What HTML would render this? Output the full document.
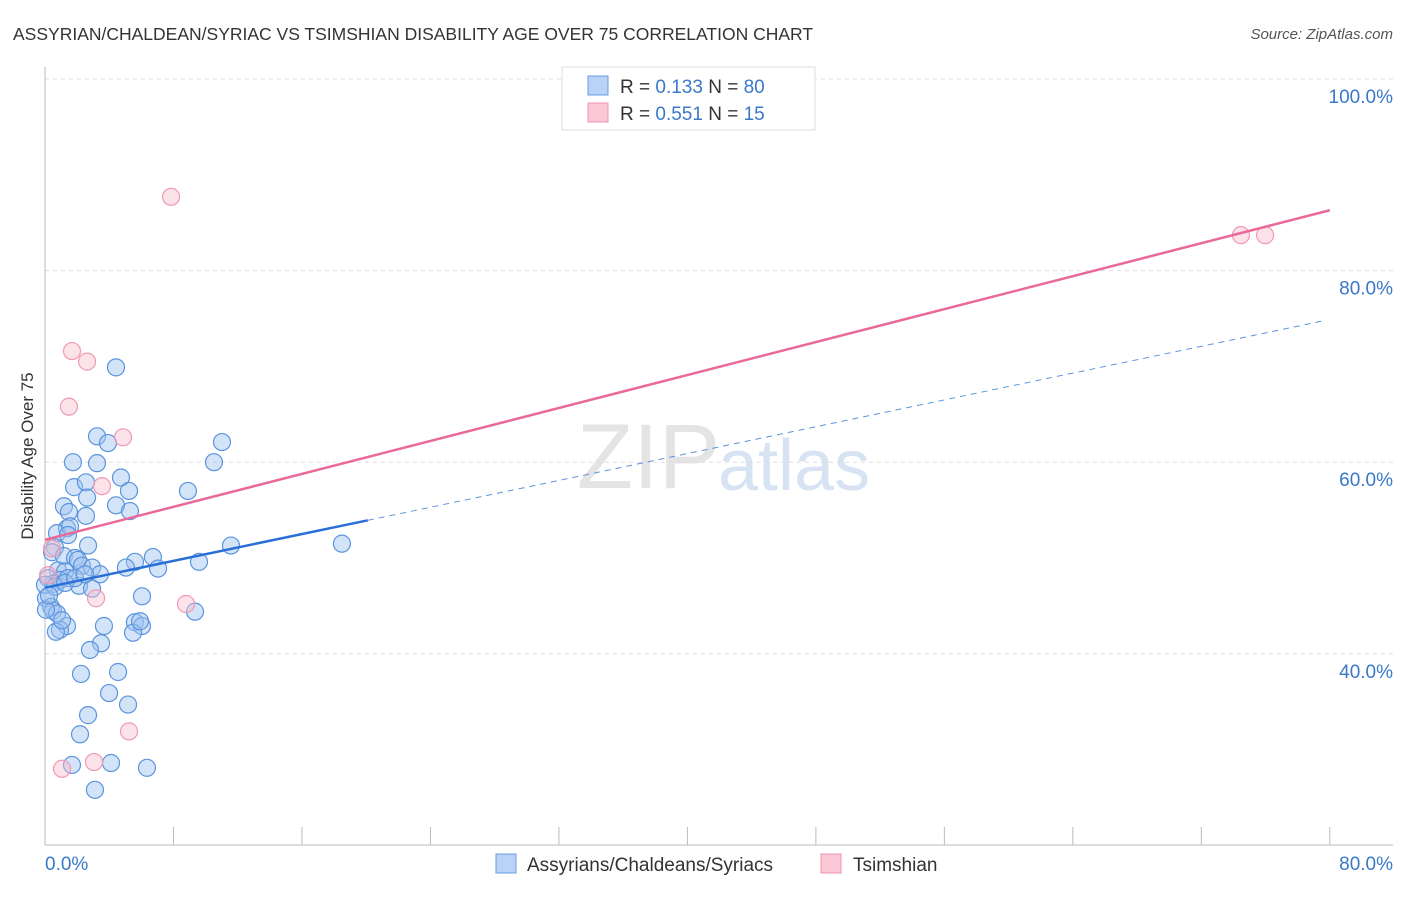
<!DOCTYPE html>
<html><head><meta charset="utf-8"><style>
body{margin:0;background:#fff;font-family:"Liberation Sans",sans-serif}
svg text{font-family:"Liberation Sans",sans-serif}
</style></head><body>
<svg id="c" width="1406" height="892">
<text x="13" y="40" font-size="17.5" fill="#333">ASSYRIAN/CHALDEAN/SYRIAC VS TSIMSHIAN DISABILITY AGE OVER 75 CORRELATION CHART</text>
<text x="1393" y="39" font-size="15" fill="#555" font-style="italic" text-anchor="end">Source: ZipAtlas.com</text>
<text x="720" y="488" font-size="92" fill="#e4e4e4" text-anchor="end" font-family="Liberation Serif">ZIP</text>
<text x="718" y="490" font-size="72" fill="#d7e3f3">atlas</text>
<text transform="translate(33,456) rotate(-90)" font-size="17" fill="#333" text-anchor="middle">Disability Age Over 75</text>
<g id="grid"></g><g id="pts"></g><g id="lines"></g>
<g>
<rect x="562" y="67" width="253" height="63" fill="#fff" stroke="#ddd"/>
<rect x="588" y="76" width="20" height="19" fill="#b8d3f5" stroke="#6a9de0"/>
<rect x="588" y="103" width="20" height="19" fill="#fbc8d7" stroke="#ec94ae"/>
<text x="620" y="93" font-size="19" fill="#333">R = <tspan fill="#3a78c9">0.133</tspan>   N = <tspan fill="#3a78c9">80</tspan></text>
<text x="620" y="120" font-size="19" fill="#333">R = <tspan fill="#3a78c9">0.551</tspan>   N = <tspan fill="#3a78c9"> 15</tspan></text>
</g>
<g>
<rect x="496" y="854" width="20" height="19" fill="#b8d3f5" stroke="#6a9de0"/>
<text x="527" y="871" font-size="19" fill="#333">Assyrians/Chaldeans/Syriacs</text>
<rect x="821" y="854" width="20" height="19" fill="#fbc8d7" stroke="#ec94ae"/>
<text x="853" y="871" font-size="19" fill="#333">Tsimshian</text>
</g>
</svg>
<script>
const yTicks=[40,60,80,100];
const yTickLabels=["40.0%","60.0%","80.0%","100.0%"];
const xTickVals=[0,8,16,24,32,40,48,56,64,72,80];
const blueX=[4.42,3.24,3.92,11.02,1.74,3.24,10.52,4.73,1.81,2.55,5.23,8.9,2.62,4.42,1.18,5.29,1.49,2.55,1.37,0.75,1.56,1.43,11.58,18.49,2.68,0.62,0.44,6.72,5.6,1.18,1.87,2.05,2.3,5.04,9.59,7.04,0.81,1.25,2.93,0.19,0.93,0.5,1.43,3.42,2.12,2.93,6.04,0.06,0.37,0.5,0.75,9.34,1.37,0.93,3.67,5.6,6.04,5.48,0.68,3.49,2.8,4.55,2.24,3.99,5.17,2.68,2.18,1.68,4.11,6.35,3.11,0.06,1.06,5.92,0,0.62,1.25,1.87,2.49,0.25];
const blueY=[69.9,62.7,62.0,62.1,60.0,59.9,60.0,58.4,57.4,57.9,57.0,57.0,56.3,55.5,55.4,54.9,54.8,54.4,53.1,52.6,53.3,52.4,51.3,51.5,51.3,51.1,50.6,50.1,49.6,50.2,50.0,49.8,49.2,49.0,49.6,48.9,48.7,48.6,49.0,47.9,47.7,47.3,47.9,48.3,47.1,46.8,46.0,45.8,44.9,44.5,44.2,44.4,42.9,42.5,42.9,43.3,42.9,42.2,42.3,41.1,40.4,38.1,37.9,35.9,34.7,33.6,31.6,28.4,28.6,28.1,25.8,44.6,43.5,43.4,47.2,47.0,47.4,47.9,48.3,46.1];
const pinkX=[7.85,1.68,2.62,1.49,4.86,3.55,0.44,0.19,3.18,8.78,5.23,1.06,3.05,74.47,75.97];
const pinkY=[87.7,71.6,70.5,65.8,62.6,57.5,51.0,48.2,45.8,45.2,31.9,28.0,28.7,83.7,83.7];
const blueFit=[46.9,0.35]; const blueSolidEnd=20.1; const blueDashEnd=79.7;
const pinkFit=[51.9,0.43];
const X=v=>45+v*16.06, Y=v=>79+(100-v)*9.58;
const NS="http://www.w3.org/2000/svg";
function mk(p,t,a){const e=document.createElementNS(NS,t);for(const k in a)e.setAttribute(k,a[k]);p.appendChild(e);return e;}
const g=document.getElementById('grid');
yTicks.forEach((v,i)=>{
 const l=mk(g,'line',{x1:45,x2:1393,y1:Y(v),y2:Y(v),stroke:'#ddd','stroke-dasharray':'4,4'});
 
 
 const t=mk(g,'text',{x:1393,y:Y(v)+24,'font-size':19,fill:'#3a78c9','text-anchor':'end'});t.textContent=yTickLabels[i];
 
 
});
const ax=mk(g,'line',{x1:45,x2:45,y1:67,y2:845,stroke:'#bbb'});


const bx=mk(g,'line',{x1:45,x2:1393,y1:845,y2:845,stroke:'#bbb'});


xTickVals.forEach(v=>{const t=mk(g,'line',{x1:X(v),x2:X(v),y1:827,y2:845,stroke:'#bbb'});
 
 });
let t0=mk(g,'text',{x:45,y:870,'font-size':19,fill:'#3a78c9'});t0.textContent='0.0%';


let t1=mk(g,'text',{x:1393,y:870,'font-size':19,fill:'#3a78c9','text-anchor':'end'});t1.textContent='80.0%';


const P=document.getElementById('pts');
blueX.forEach((x,i)=>{const c=mk(P,'circle',{cx:X(x),cy:Y(blueY[i]),r:8.5,fill:'rgba(160,196,240,0.45)',stroke:'#5b94de','stroke-width':1.2});
 
 });
pinkX.forEach((x,i)=>{const c=mk(P,'circle',{cx:X(x),cy:Y(pinkY[i]),r:8.5,fill:'rgba(248,190,207,0.45)',stroke:'#ef9ab3','stroke-width':1.2});
 
 });
const L=document.getElementById('lines');
const f=(fit,x)=>fit[0]+fit[1]*x;
let a=mk(L,'line',{x1:X(0),y1:Y(f(pinkFit,0)),x2:X(80),y2:Y(f(pinkFit,80)),stroke:'#e8699a','stroke-width':2.5});


let b=mk(L,'line',{x1:X(0),y1:Y(f(blueFit,0)),x2:X(blueSolidEnd),y2:Y(f(blueFit,blueSolidEnd)),stroke:'#2a6fd6','stroke-width':2.5});


let d=mk(L,'line',{x1:X(blueSolidEnd),y1:Y(f(blueFit,blueSolidEnd)),x2:X(blueDashEnd),y2:Y(f(blueFit,blueDashEnd)),stroke:'#5b94de','stroke-width':1,'stroke-dasharray':'6,5'});


</script>
</body></html>
